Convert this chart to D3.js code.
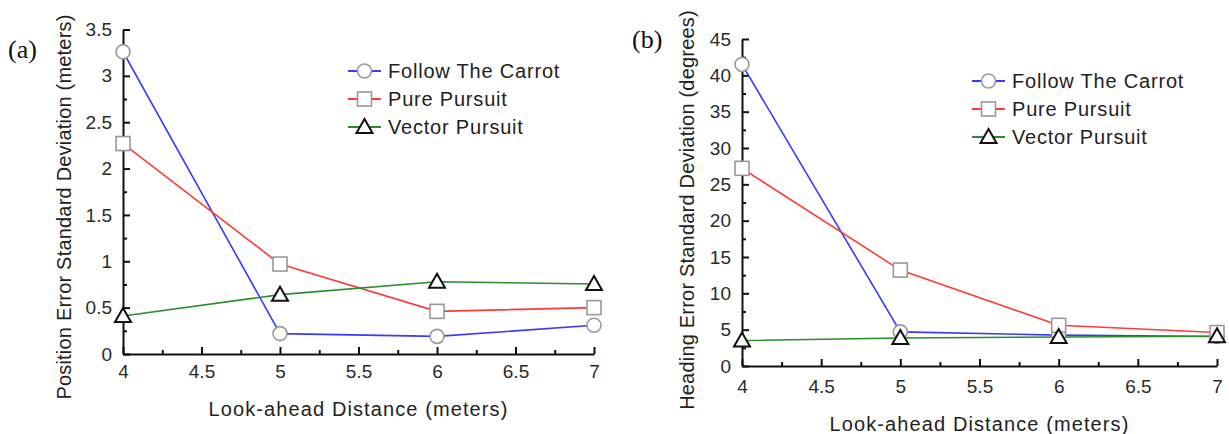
<!DOCTYPE html>
<html><head><meta charset="utf-8">
<script src="https://cdn.jsdelivr.net/npm/d3@7"></script>
<style>
body{margin:0;background:#fff;}
svg{display:block;}
text{font-family:"Liberation Sans",Arial,sans-serif;fill:#222;}
text.plabel{font-family:"Liberation Serif","Times New Roman",serif;fill:#111;}
</style></head>
<body><svg id="c" width="1229" height="434"></svg>
<script>
// ---- data ----
const lookAhead = [4, 5, 6, 7];
const xTickValues = [4, 4.5, 5, 5.5, 6, 6.5, 7];
const xMinorValues = [4.25, 4.75, 5.25, 5.75, 6.25, 6.75];
const seriesNames = ["Follow The Carrot", "Pure Pursuit", "Vector Pursuit"];

const posFollowCarrot = [3.26, 0.22, 0.19, 0.31];
const posPurePursuit  = [2.27, 0.97, 0.46, 0.50];
const posVectorPursuit= [0.41, 0.64, 0.78, 0.755];

const headFollowCarrot = [41.5, 4.7, 4.25, 4.05];
const headPurePursuit  = [27.2, 13.2, 5.6, 4.6];
const headVectorPursuit= [3.5, 3.85, 4.0, 4.1];

const posYTicks = [0, 0.5, 1, 1.5, 2, 2.5, 3, 3.5];
const posYMinor = [0.25, 0.75, 1.25, 1.75, 2.25, 2.75, 3.25];
const headYTicks = [0, 5, 10, 15, 20, 25, 30, 35, 40, 45];
const headYMinor = [2.5, 7.5, 12.5, 17.5, 22.5, 27.5, 32.5, 37.5, 42.5];

const panelLabels = ["(a)", "(b)"];
const xTitle = "Look-ahead Distance (meters)";
const yTitles = ["Position Error Standard Deviation (meters)", "Heading Error Standard Deviation (degrees)"];

// ---- styles ----
const lineColors = ["#3a3aff", "#ff3a3a", "#2a8f2a"];
const markerStroke = ["#999", "#999", "#111"];
const markerTypes = ["circle", "square", "triangle"];

const svg = d3.select("#c");

const panels = [
  {x0:123, x1:594, yTop:29.5, yBot:354, yMax:3.5, yTicks:posYTicks, yMinor:posYMinor,
   series:[posFollowCarrot, posPurePursuit, posVectorPursuit],
   label:panelLabels[0], labelX:8, labelY:58, yTitle:yTitles[0], yTitleX:71, yTitleY:207,
   xTitleY:416, xLabelPad:11, legX:348, legY:71},
  {x0:742, x1:1217, yTop:39, yBot:366, yMax:45, yTicks:headYTicks, yMinor:headYMinor,
   series:[headFollowCarrot, headPurePursuit, headVectorPursuit],
   label:panelLabels[1], labelX:632, labelY:48, yTitle:yTitles[1], yTitleX:694, yTitleY:210,
   xTitleY:431, xLabelPad:14, legX:972, legY:81}
];

function drawMarker(g, type, cx, cy, i) {
  if (type === "circle") {
    g.append("circle").attr("cx", cx).attr("cy", cy).attr("r", 7)
      .attr("fill", "#fff").attr("stroke", markerStroke[i]).attr("stroke-width", 1.6);
  } else if (type === "square") {
    g.append("rect").attr("x", cx - 7).attr("y", cy - 7).attr("width", 14).attr("height", 14)
      .attr("fill", "#fff").attr("stroke", markerStroke[i]).attr("stroke-width", 1.6);
  } else {
    g.append("path").attr("d", `M${cx},${cy-8}L${cx+8},${cy+6}L${cx-8},${cy+6}Z`)
      .attr("fill", "#fff").attr("stroke", markerStroke[i]).attr("stroke-width", 2);
  }
}

panels.forEach(p => {
  const x = d3.scaleLinear().domain([4, 7]).range([p.x0, p.x1]);
  const y = d3.scaleLinear().domain([0, p.yMax]).range([p.yBot, p.yTop]);
  const g = svg.append("g");

  // minor ticks
  g.append("g").attr("transform", `translate(${p.x0},0)`)
    .call(d3.axisLeft(y).tickValues(p.yMinor).tickSize(-4).tickSizeOuter(0).tickFormat(""))
    .call(a => a.select(".domain").remove())
    .call(a => a.selectAll("line").attr("stroke", "#111").attr("stroke-width", 2));
  g.append("g").attr("transform", `translate(0,${p.yBot})`)
    .call(d3.axisBottom(x).tickValues(xMinorValues).tickSize(-4).tickSizeOuter(0).tickFormat(""))
    .call(a => a.select(".domain").remove())
    .call(a => a.selectAll("line").attr("stroke", "#111").attr("stroke-width", 2));

  // major axes
  const ya = g.append("g").attr("transform", `translate(${p.x0},0)`)
    .call(d3.axisLeft(y).tickValues(p.yTicks).tickSize(-7).tickSizeOuter(0).tickPadding(11).tickFormat(d3.format("~g")));
  const xa = g.append("g").attr("transform", `translate(0,${p.yBot})`)
    .call(d3.axisBottom(x).tickValues(xTickValues).tickSize(-7).tickSizeOuter(0).tickPadding(p.xLabelPad).tickFormat(d3.format("~g")));
  [ya, xa].forEach(a => {
    a.select(".domain").attr("stroke", "#111").attr("stroke-width", 2);
    a.selectAll("line").attr("stroke", "#111").attr("stroke-width", 2);
    a.selectAll("text").attr("font-size", 19).style("fill", "#2a2a2a")
      .style("font-family", "'Liberation Sans', Arial, sans-serif");
  });

  // series lines
  const line = d3.line().x((d, j) => x(lookAhead[j])).y(d => y(d));
  p.series.forEach((s, i) => {
    g.append("path").datum(s).attr("d", line).attr("fill", "none")
      .attr("stroke", lineColors[i]).attr("stroke-width", 1.6);
  });
  p.series.forEach((s, i) => {
    s.forEach((v, j) => drawMarker(g, markerTypes[i], x(lookAhead[j]), y(v), i));
  });

  // titles
  g.append("text").attr("x", (p.x0 + p.x1) / 2).attr("y", p.xTitleY)
    .attr("text-anchor", "middle").attr("font-size", 20).attr("letter-spacing", 1.1)
    .text(xTitle);
  g.append("text").attr("transform", `translate(${p.yTitleX},${p.yTitleY}) rotate(-90)`)
    .attr("text-anchor", "middle").attr("font-size", 20).attr("letter-spacing", 0.2)
    .text(p.yTitle);
  g.append("text").attr("class", "plabel").attr("x", p.labelX).attr("y", p.labelY)
    .attr("font-size", 26).text(p.label);

  // legend
  seriesNames.forEach((name, i) => {
    const ly = p.legY + i * 28;
    g.append("line").attr("x1", p.legX).attr("x2", p.legX + 33).attr("y1", ly).attr("y2", ly)
      .attr("stroke", lineColors[i]).attr("stroke-width", 2);
    drawMarker(g, markerTypes[i], p.legX + 16.5, ly, i);
    g.append("text").attr("x", p.legX + 40).attr("y", ly).attr("dy", "0.35em")
      .attr("font-size", 20).attr("letter-spacing", 0.8).text(name);
  });
});
</script></body></html>
